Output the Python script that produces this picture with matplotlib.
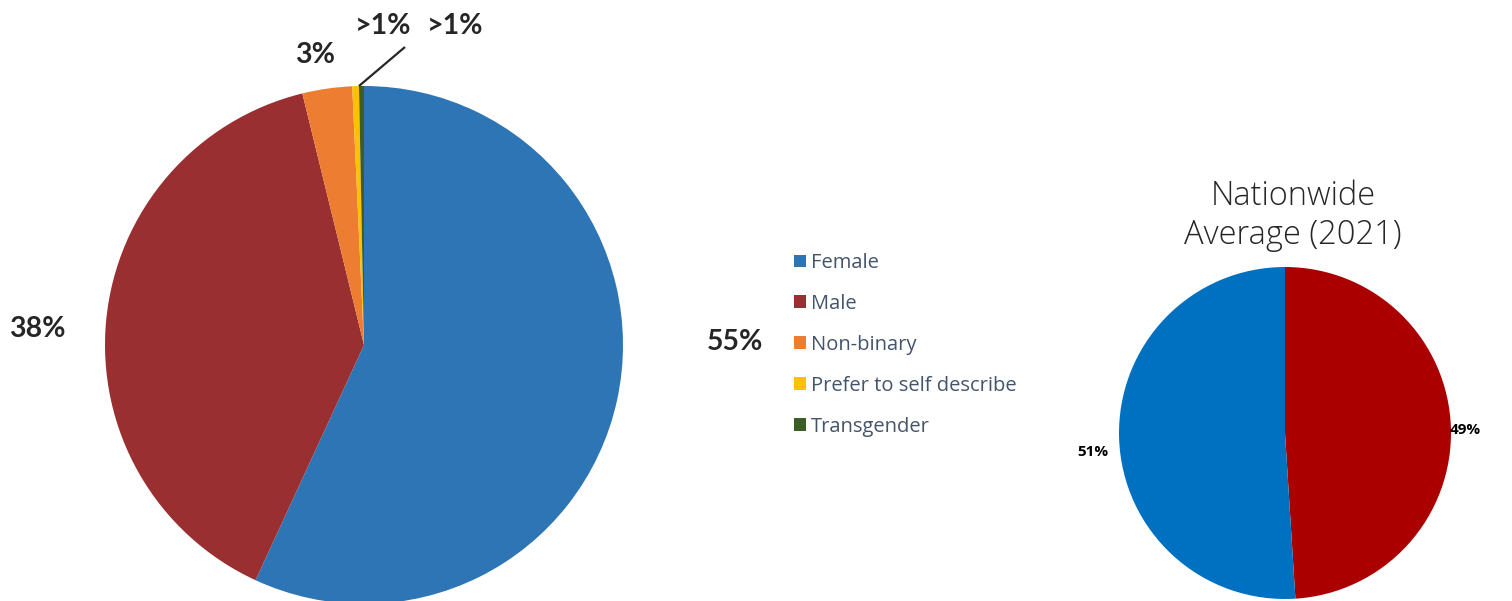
import matplotlib
matplotlib.use("Agg")
import matplotlib.pyplot as plt
import numpy as np

# survey respondents by gender
categories = ["Female", "Male", "Non-binary", "Prefer to self describe", "Transgender"]
shares = [55, 38, 3, 0.4, 0.3]
share_labels = ["55%", "38%", "3%", ">1%", ">1%"]
colors = ["#2E75B6", "#9A2F31", "#ED7D31", "#FFC000", "#3B5E24"]

# nationwide split, clockwise from the top
national_groups = ["Male", "Female"]
national_shares = [49, 51]
national_labels = ["49%", "51%"]
national_colors = ["#AA0000", "#0070C0"]

W, H = 1512, 601
fig = plt.figure(figsize=(W / 100, H / 100), dpi=100)
ax = fig.add_axes([0, 0, 1, 1])

wedges, _ = ax.pie(shares, colors=colors, startangle=90, counterclock=False,
                   center=(364, H - 345), radius=259,
                   wedgeprops=dict(linewidth=0))
nat_wedges, _ = ax.pie(national_shares, colors=national_colors, startangle=90,
                       counterclock=False, center=(1285, H - 433), radius=166,
                       wedgeprops=dict(linewidth=0))

ax.set_xlim(0, W)
ax.set_ylim(0, H)
ax.set_aspect("auto")
ax.axis("off")

# data labels (pixel positions, top-left origin)
label_pos = [(735, 342), (37, 329), (315, 55), (383, 26), (455, 26)]
for txt, (x, y) in zip(share_labels, label_pos):
    ax.text(x, H - y, txt, ha="center", va="center", fontsize=20.5,
            fontfamily="Lato", fontweight="bold", color="#262626")

# leader line for the two tiny slices
w = wedges[3]
ang = np.deg2rad(w.theta1)
cx, cy = w.center
ax.plot([cx + w.r * np.cos(ang), 405], [cy + w.r * np.sin(ang), H - 47],
        color="#262626", linewidth=1.6, solid_capstyle="butt")

nat_pos = [(1465, 430), (1093, 452)]
for txt, (x, y) in zip(national_labels, nat_pos):
    ax.text(x, H - y, txt, ha="center", va="center", fontsize=11,
            fontfamily="Open Sans", fontweight="bold", color="#000000")

ax.text(1293, H - 216, "Nationwide\nAverage (2021)", ha="center", va="center",
        fontsize=23.5, fontfamily="Open Sans", fontweight="light",
        color="#262626", linespacing=1.2)

fig.legend(wedges, categories, loc="upper left",
           bbox_to_anchor=(794 / W, 1 - 253 / H), frameon=False,
           prop=dict(family="Open Sans", size=14.5), labelcolor="#44546A",
           handlelength=0.6, handleheight=0.6, handletextpad=0.22,
           labelspacing=1.04, borderpad=0, borderaxespad=0)

fig.savefig("out.png", dpi=100)
